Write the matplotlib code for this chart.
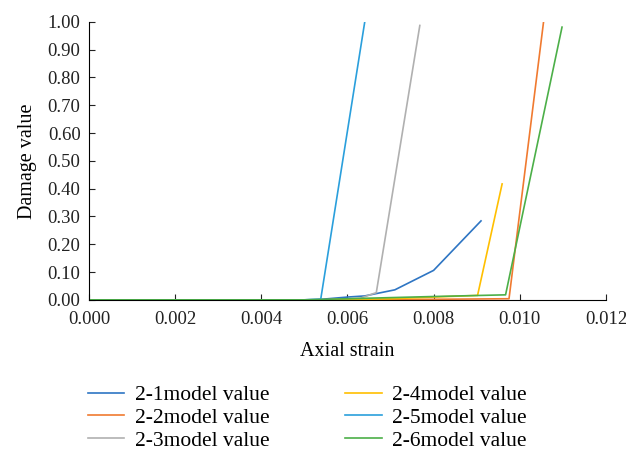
import numpy as np
import matplotlib.pyplot as plt

plt.rcParams['font.family'] = ['Liberation Serif', 'DejaVu Serif']

# strain / damage pairs
x1 = [0.0, 0.0050, 0.0054, 0.0060, 0.0064, 0.0071, 0.0080, 0.0091]
y1 = [0.0, 0.000, 0.002, 0.010, 0.014, 0.036, 0.106, 0.284]

x2 = [0.0, 0.0050, 0.0080, 0.00975, 0.01055]
y2 = [0.0, 0.000, 0.002, 0.004, 0.998]

x3 = [0.0, 0.0055, 0.0063, 0.00667, 0.00768]
y3 = [0.0, 0.000, 0.006, 0.026, 0.987]

x4 = [0.0, 0.0055, 0.0070, 0.0080, 0.00902, 0.00959]
y4 = [0.0, 0.000, 0.004, 0.010, 0.016, 0.417]

x5 = [0.0, 0.0050, 0.00538, 0.00640]
y5 = [0.0, 0.000, 0.002, 0.998]

x6 = [0.0, 0.0050, 0.0070, 0.0080, 0.00967, 0.01098]
y6 = [0.0, 0.000, 0.008, 0.012, 0.018, 0.981]

labels = ['2-1model value', '2-2model value', '2-3model value',
          '2-4model value', '2-5model value', '2-6model value']
colors = ['#2e75c3', '#f07a30', '#b0b0b0', '#ffbf00', '#2a9fdc', '#4caf48']

fig = plt.figure(figsize=(6.26, 4.55), dpi=100)
ax = fig.add_axes([0.142, 0.341, 0.826, 0.611])

series = [(x1, y1), (x2, y2), (x3, y3), (x4, y4), (x5, y5), (x6, y6)]
for (xs, ys), lab, c in zip(series, labels, colors):
    ax.plot(xs, ys, color=c, lw=1.2, label=lab)

ax.set_xlim(0, 0.012)
ax.set_ylim(0, 1.0)
ax.set_xticks(np.arange(0, 0.0121, 0.002))
ax.set_yticks(np.arange(0, 1.01, 0.1))
ax.xaxis.set_major_formatter(plt.FormatStrFormatter('%.3f'))
ax.yaxis.set_major_formatter(plt.FormatStrFormatter('%.2f'))
ax.tick_params(direction='in', length=4, labelsize=13.5, colors='#222222')
ax.tick_params(axis='x', pad=8)
ax.tick_params(axis='y', pad=6)
ax.spines['top'].set_visible(False)
ax.spines['right'].set_visible(False)
ax.set_xlabel('Axial strain', fontsize=14.5, labelpad=10)
ax.set_ylabel('Damage value', fontsize=14.5, labelpad=8)

# legend order: column-wise 2-1..2-3 then 2-4..2-6
fig.legend(loc='upper left', bbox_to_anchor=(0.109, 0.196), ncol=2,
           frameon=False, fontsize=15.5, handlelength=1.7, columnspacing=3.5,
           labelspacing=0.12, handletextpad=0.5)

fig.savefig('out.png', dpi=100)
